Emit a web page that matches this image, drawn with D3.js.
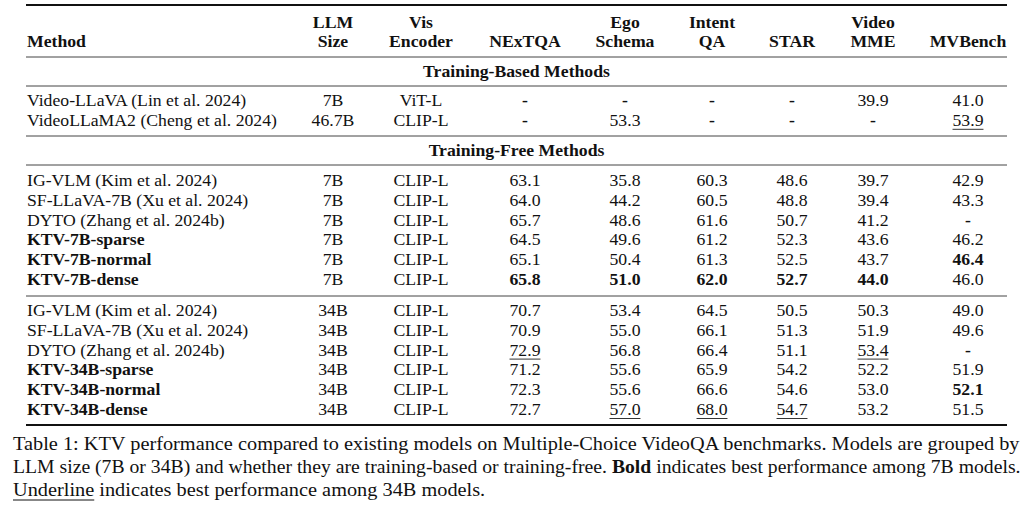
<!DOCTYPE html>
<html>
<head>
<meta charset="utf-8">
<script src="https://cdn.jsdelivr.net/npm/d3@7"></script>
<style>
  body { margin: 0; background: #fff; }
  svg text { font-family: "Liberation Serif", "Times New Roman", serif; fill: #111; }
</style>
</head>
<body>
<svg id="chart" width="1034" height="508"></svg>
<script>
// column keys and the two header lines
const colKeys = ["method", "size", "enc", "nextqa", "ego", "intent", "star", "mme", "mvbench"];
const headTop = ["", "LLM", "Vis", "", "Ego", "Intent", "", "Video", ""];
const headBottom = ["Method", "Size", "Encoder", "NExTQA", "Schema", "QA", "STAR", "MME", "MVBench"];

const sectionTitles = ["Training-Based Methods", "Training-Free Methods"];

const methods = [
  "Video-LLaVA (Lin et al. 2024)", "VideoLLaMA2 (Cheng et al. 2024)",
  "IG-VLM (Kim et al. 2024)", "SF-LLaVA-7B (Xu et al. 2024)", "DYTO (Zhang et al. 2024b)",
  "KTV-7B-sparse", "KTV-7B-normal", "KTV-7B-dense",
  "IG-VLM (Kim et al. 2024)", "SF-LLaVA-7B (Xu et al. 2024)", "DYTO (Zhang et al. 2024b)",
  "KTV-34B-sparse", "KTV-34B-normal", "KTV-34B-dense"
];
const rowBlock = [0, 0, 1, 1, 1, 1, 1, 1, 2, 2, 2, 2, 2, 2];
const llmSize = ["7B", "46.7B", "7B", "7B", "7B", "7B", "7B", "7B", "34B", "34B", "34B", "34B", "34B", "34B"];
const visEncoder = ["ViT-L", "CLIP-L", "CLIP-L", "CLIP-L", "CLIP-L", "CLIP-L", "CLIP-L", "CLIP-L",
  "CLIP-L", "CLIP-L", "CLIP-L", "CLIP-L", "CLIP-L", "CLIP-L"];

// scores (null = "-")
const nextqa  = [null, null, 63.1, 64.0, 65.7, 64.5, 65.1, 65.8, 70.7, 70.9, 72.9, 71.2, 72.3, 72.7];
const ego     = [null, 53.3, 35.8, 44.2, 48.6, 49.6, 50.4, 51.0, 53.4, 55.0, 56.8, 55.6, 55.6, 57.0];
const intent  = [null, null, 60.3, 60.5, 61.6, 61.2, 61.3, 62.0, 64.5, 66.1, 66.4, 65.9, 66.6, 68.0];
const star    = [null, null, 48.6, 48.8, 50.7, 52.3, 52.5, 52.7, 50.5, 51.3, 51.1, 54.2, 54.6, 54.7];
const mme     = [39.9, null, 39.7, 39.4, 41.2, 43.6, 43.7, 44.0, 50.3, 51.9, 53.4, 52.2, 53.0, 53.2];
const mvbench = [41.0, 53.9, 42.9, 43.3, null, 46.2, 46.4, 46.0, 49.0, 49.6, null, 51.9, 52.1, 51.5];

const boldMethods = [5, 6, 7, 11, 12, 13];
const boldCells = [[7, "nextqa"], [7, "ego"], [7, "intent"], [7, "star"], [7, "mme"], [6, "mvbench"], [12, "mvbench"]];
const underCells = [[1, "mvbench"], [10, "nextqa"], [10, "mme"], [13, "ego"], [13, "intent"], [13, "star"]];

const captionLines = [
  [["Table 1: KTV performance compared to existing models on Multiple-Choice VideoQA benchmarks. Models are grouped by", ""]],
  [["LLM size (7B or 34B) and whether they are training-based or training-free. ", ""], ["Bold", "b"], [" indicates best performance among 7B models.", ""]],
  [["Underline", "u"], [" indicates best performance among 34B models.", ""]]
];

const svg = d3.select("#chart");
const area = { left: 26, right: 1007, fs: 17.7 };

const scaleX = d3.scaleOrdinal()
  .domain(colKeys)
  .range([27, 333, 421, 525, 625, 712, 792, 873, 968]);

// row baselines: block start + step inside block
const blockStart = [106, 186, 316];
const step = d3.scaleLinear().domain([0, 1]).range([0, 19.8]);
const firstInBlock = rowBlock.map(b => rowBlock.indexOf(b));
const rowY = i => blockStart[rowBlock[i]] + step(i - firstInBlock[i]);

const series = { nextqa, ego, intent, star, mme, mvbench };

// rules
const rules = [[5, 1.8], [57, 1], [86, 1], [136, 1], [165, 1], [296, 1], [425, 1.8]];
svg.selectAll("line.rule")
  .data(rules)
  .join("line")
  .attr("class", "rule")
  .attr("x1", area.left).attr("x2", area.right)
  .attr("y1", d => d[0]).attr("y2", d => d[0])
  .attr("stroke", d => d[1] > 1.5 ? "#111" : "#444")
  .attr("stroke-width", d => d[1]);

// header
const head = svg.append("g").style("font-weight", "bold").style("font-size", area.fs + "px");
colKeys.forEach((k, i) => {
  const anchor = k === "method" ? "start" : "middle";
  if (headTop[i]) head.append("text").attr("x", scaleX(k)).attr("y", 28).attr("text-anchor", anchor).text(headTop[i]);
  head.append("text").attr("x", scaleX(k)).attr("y", 47).attr("text-anchor", anchor).text(headBottom[i]);
});

// section titles
svg.selectAll("text.section")
  .data(sectionTitles)
  .join("text")
  .attr("class", "section")
  .attr("x", (area.left + area.right) / 2)
  .attr("y", (d, i) => [77, 156][i])
  .attr("text-anchor", "middle")
  .style("font-weight", "bold")
  .style("font-size", area.fs + "px")
  .text(d => d);

// body
const body = svg.append("g").style("font-size", area.fs + "px");
methods.forEach((m, i) => {
  const y = rowY(i);
  body.append("text").attr("x", scaleX("method")).attr("y", y)
    .style("font-weight", boldMethods.includes(i) ? "bold" : "normal").text(m);
  body.append("text").attr("x", scaleX("size")).attr("y", y).attr("text-anchor", "middle").text(llmSize[i]);
  body.append("text").attr("x", scaleX("enc")).attr("y", y).attr("text-anchor", "middle").text(visEncoder[i]);

  Object.keys(series).forEach(k => {
    const v = series[k][i];
    const isBold = boldCells.some(c => c[0] === i && c[1] === k);
    const isUnder = underCells.some(c => c[0] === i && c[1] === k);
    const t = body.append("text")
      .attr("x", scaleX(k)).attr("y", y)
      .attr("text-anchor", "middle")
      .style("font-weight", isBold || v === null ? "bold" : "normal")
      .text(v === null ? "-" : v.toFixed(1));
    if (isUnder) {
      const w = t.node().getComputedTextLength();
      body.append("line")
        .attr("x1", scaleX(k) - w / 2).attr("x2", scaleX(k) + w / 2)
        .attr("y1", y + 3.5).attr("y2", y + 3.5)
        .attr("stroke", "#333").attr("stroke-width", 1);
    }
  });
});

// caption
const capBase = [450, 473, 496];
const capLeft = 13;
let capScale = 1;
captionLines.forEach((parts, li) => {
  const g = svg.append("g");
  const t = g.append("text").attr("x", 0).attr("y", 0).style("font-size", "19.5px");
  parts.forEach(p => {
    t.append("tspan").style("font-weight", p[1] === "b" ? "bold" : "normal").text(p[0]);
  });
  const w = t.node().getComputedTextLength();
  if (li === 0) capScale = (1020 - capLeft) / w;
  const sx = li === 1 ? (1021 - capLeft) / w : capScale;
  g.attr("transform", `translate(${capLeft},${capBase[li]}) scale(${sx},1)`);
  if (parts[0][1] === "u") {
    const uw = t.select("tspan").node().getComputedTextLength();
    g.append("line").attr("x1", 0).attr("x2", uw).attr("y1", 4).attr("y2", 4)
      .attr("stroke", "#111").attr("stroke-width", 1);
  }
});
</script>
</body>
</html>
